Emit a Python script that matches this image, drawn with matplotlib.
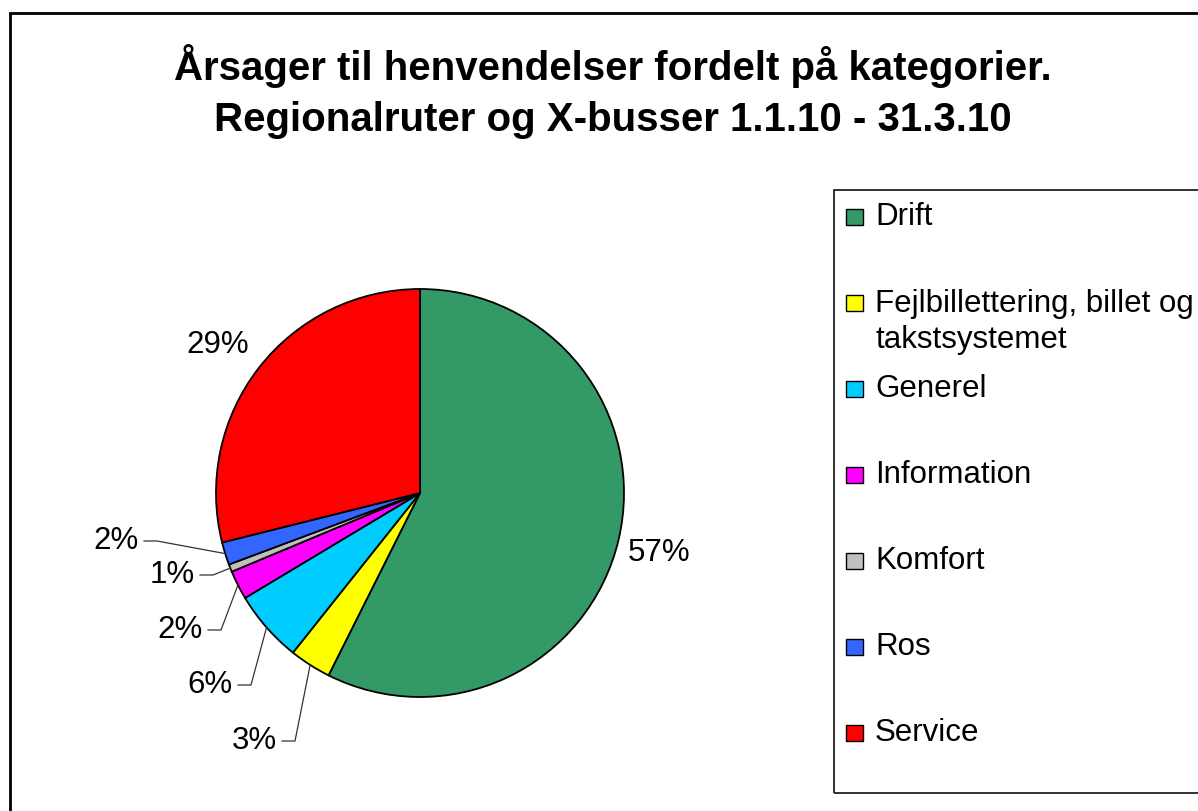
import numpy as np
import matplotlib.pyplot as plt
from matplotlib.patches import Rectangle

plt.rcParams['font.family'] = ['Liberation Sans', 'DejaVu Sans']

categories = ['Drift', 'Fejlbillettering, billet og\ntakstsystemet', 'Generel',
              'Information', 'Komfort', 'Ros', 'Service']
values = [57.4, 3.3, 5.7, 2.3, 0.6, 1.8, 28.9]
colors = ['#339966', '#FFFF00', '#00CCFF', '#FF00FF', '#C0C0C0', '#3366FF', '#FF0000']

title_lines = ['Årsager til henvendelser fordelt på kategorier.',
               'Regionalruter og X-busser 1.1.10 - 31.3.10']

W, H = 1198, 811
fig = plt.figure(figsize=(W / 100, H / 100), dpi=100)


def fx(x):
    return x / W


def fy(y):
    return 1 - y / H


# pie centre and radius in pixels
cx, cy, R = 420, 493, 204
ax = fig.add_axes([0, 0, 1, 1])
wedges, _ = ax.pie(values, colors=colors, startangle=90, counterclock=False,
                   radius=1, wedgeprops=dict(edgecolor='black', linewidth=1.3))
ax.set_xlim(-cx / R, (W - cx) / R)
ax.set_ylim(-(H - cy) / R, cy / R)
ax.axis('off')

# label anchors in pixels (x, y, alignment, leader line)
label_pos = [(659, 553, 'center', False),
             (277, 741, 'right', True),
             (233, 685, 'right', True),
             (203, 630, 'right', True),
             (195, 575, 'right', True),
             (139, 541, 'right', True),
             (218, 345, 'center', False)]

total = sum(values)
for w, v, (px, py, ha, lead) in zip(wedges, values, label_pos):
    tx, ty = (px - cx) / R, (cy - py) / R
    ax.text(tx, ty, f'{v / total * 100:.0f}%', ha=ha, va='center', fontsize=22.5)
    if lead:
        mid = np.deg2rad((w.theta1 + w.theta2) / 2)
        ex, ey = np.cos(mid), np.sin(mid)
        x0 = tx + 5 / R
        x1 = x0 + 13 / R
        ax.plot([x0, x1, ex], [ty, ty, ey], color='#333333', lw=0.9)

# title
fig.text(fx(613), fy(66), title_lines[0], ha='center', va='center',
         fontsize=29, fontweight='bold')
fig.text(fx(613), fy(120), title_lines[1], ha='center', va='center',
         fontsize=29, fontweight='bold')

# legend box
fig.add_artist(Rectangle((fx(834), fy(793)), fx(1215 - 834), (793 - 190) / H,
                         transform=fig.transFigure, fill=False,
                         edgecolor='#222222', lw=1.3))
for i, (lab, col) in enumerate(zip(categories, colors)):
    yc = 217 + 86 * i
    fig.add_artist(Rectangle((fx(846), fy(yc + 8)), 17 / W, 16 / H,
                             transform=fig.transFigure, facecolor=col,
                             edgecolor='black', lw=1.0))
    nl = lab.count('\n')
    fig.text(fx(875), fy(yc + 19 * nl), lab, ha='left', va='center',
             fontsize=22.5, linespacing=1.3)

# outer chart border
fig.add_artist(Rectangle((fx(10), fy(830)), fx(1230), (830 - 13) / H,
                         transform=fig.transFigure, fill=False,
                         edgecolor='black', lw=2))

plt.savefig('out.png', dpi=100)
